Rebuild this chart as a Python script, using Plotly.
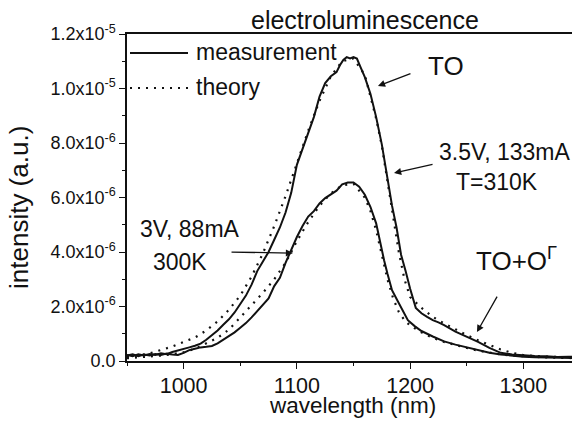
import numpy as np
import plotly.graph_objects as go

# ---- data (intensity in units of 1e-6 a.u.) ----
wl_meas_high = [950, 955, 960, 965, 970, 975, 980, 985, 990, 995, 1000, 1005, 1010, 1015, 1020, 1025,
                1030, 1035, 1040, 1045, 1050, 1055, 1060, 1065, 1070, 1075, 1080, 1085, 1090, 1095,
                1100, 1105, 1110, 1115, 1120, 1125, 1130, 1135, 1138, 1141, 1144, 1147, 1150, 1153,
                1156, 1160, 1165, 1170, 1175, 1178, 1181, 1184, 1188, 1192, 1196, 1200, 1205, 1210,
                1215, 1220, 1225, 1230, 1240, 1250, 1260, 1270, 1280, 1290, 1300, 1310, 1320, 1330,
                1340, 1350]
int_meas_high = [0.22, 0.18, 0.25, 0.20, 0.26, 0.22, 0.28, 0.25, 0.33, 0.38, 0.44, 0.50, 0.56, 0.64, 0.78, 0.95,
                 1.12, 1.33, 1.53, 1.78, 2.07, 2.40, 2.80, 3.30, 3.65, 4.00, 4.45, 4.90, 5.45, 6.17,
                 7.20, 7.80, 8.35, 8.95, 9.70, 10.20, 10.45, 10.60, 10.85, 11.05, 11.15, 11.10, 11.15, 11.10,
                 10.80, 10.42, 9.80, 8.95, 7.95, 7.20, 6.60, 5.70, 4.90, 3.90, 3.30, 2.65, 1.95, 1.75,
                 1.62, 1.50, 1.42, 1.32, 1.08, 0.90, 0.70, 0.48, 0.30, 0.24, 0.20, 0.18, 0.17, 0.15,
                 0.16, 0.14]

wl_theo_high = [950, 960, 970, 980, 990, 1000, 1010, 1020, 1030, 1040, 1050, 1060, 1070, 1080, 1090,
                1100, 1110, 1120, 1130, 1140, 1150, 1160, 1170, 1175, 1180, 1185, 1190, 1195, 1200,
                1210, 1220, 1230, 1240, 1250, 1260, 1270, 1280, 1290, 1300, 1310, 1320, 1330, 1340, 1350]
int_theo_high = [0.15, 0.20, 0.28, 0.40, 0.53, 0.70, 0.86, 1.12, 1.45, 1.88, 2.40, 3.10, 3.95, 4.95, 6.05,
                 7.25, 8.45, 9.55, 10.45, 11.00, 11.10, 10.50, 8.90, 7.90, 6.60, 5.20, 4.00, 3.00, 2.35,
                 1.95, 1.62, 1.38, 1.15, 0.95, 0.76, 0.58, 0.42, 0.30, 0.22, 0.18, 0.16, 0.14, 0.13, 0.12]

wl_meas_low = [950, 955, 960, 965, 970, 975, 980, 985, 990, 995, 1000, 1005, 1010, 1015, 1020, 1025,
               1030, 1035, 1040, 1045, 1050, 1055, 1060, 1065, 1070, 1075, 1080, 1085, 1090, 1095,
               1100, 1105, 1110, 1115, 1120, 1125, 1130, 1135, 1140, 1145, 1150, 1155, 1160, 1165,
               1170, 1174, 1177, 1180, 1184, 1189, 1194, 1198, 1204, 1210, 1220, 1230, 1240, 1250,
               1260, 1270, 1280, 1290, 1300, 1310, 1320, 1330, 1340, 1350]
int_meas_low = [0.20, 0.25, 0.18, 0.24, 0.20, 0.26, 0.22, 0.27, 0.24, 0.22, 0.30, 0.40, 0.45, 0.50, 0.52, 0.55,
                0.65, 0.78, 0.90, 1.05, 1.22, 1.39, 1.60, 1.82, 2.05, 2.30, 2.75, 3.05, 3.60, 4.10,
                4.55, 4.95, 5.30, 5.50, 5.78, 5.98, 6.10, 6.25, 6.48, 6.55, 6.55, 6.40, 6.10, 5.65,
                5.05, 4.20, 3.70, 3.20, 2.60, 2.20, 1.80, 1.50, 1.28, 1.10, 0.90, 0.72, 0.60, 0.50,
                0.38, 0.30, 0.24, 0.19, 0.16, 0.14, 0.13, 0.12, 0.11, 0.10]

wl_theo_low = [950, 960, 970, 980, 990, 1000, 1010, 1020, 1030, 1040, 1050, 1060, 1070, 1080, 1090,
               1100, 1110, 1120, 1130, 1140, 1150, 1160, 1165, 1170, 1175, 1180, 1185, 1190, 1195,
               1200, 1210, 1220, 1230, 1240, 1250, 1260, 1270, 1280, 1290, 1300, 1320, 1350]
int_theo_low = [0.10, 0.13, 0.16, 0.20, 0.25, 0.32, 0.45, 0.65, 0.85, 1.15, 1.60, 2.05, 2.50, 3.00, 3.60,
                4.40, 5.10, 5.70, 6.15, 6.45, 6.50, 6.00, 5.50, 4.80, 3.90, 3.00, 2.30, 1.80, 1.50,
                1.30, 1.05, 0.85, 0.70, 0.58, 0.48, 0.38, 0.30, 0.24, 0.20, 0.17, 0.13, 0.10]

x_tickvals = [1000, 1100, 1200, 1300]
x_ticktext = ["1000", "1100", "1200", "1300"]
y_tickvals = [0, 2e-6, 4e-6, 6e-6, 8e-6, 1e-5, 1.2e-5]
y_ticktext = ["0.0", "2.0x10<sup>-6</sup>", "4.0x10<sup>-6</sup>", "6.0x10<sup>-6</sup>",
              "8.0x10<sup>-6</sup>", "1.0x10<sup>-5</sup>", "1.2x10<sup>-5</sup>"]

scale = 1e-6
INK = "#111111"
FONT = "Liberation Sans, Arial, sans-serif"

fig = go.Figure()
dot = "2px,6px"
for wl, it, dash in [(wl_theo_high, int_theo_high, dot), (wl_theo_low, int_theo_low, dot),
                     (wl_meas_high, int_meas_high, "solid"), (wl_meas_low, int_meas_low, "solid")]:
    fig.add_trace(go.Scatter(x=wl, y=np.array(it) * scale, mode="lines",
                             line=dict(color=INK, width=2 if dash == "solid" else 2.2, dash=dash),
                             showlegend=False, hoverinfo="skip"))

# page body has an 8px default margin, so the figure is 8px smaller and margins are shifted
fig.update_layout(
    width=572, height=417,
    margin=dict(l=119, r=0, t=26, b=64),
    paper_bgcolor="white", plot_bgcolor="white",
    font=dict(family=FONT, color=INK),
    showlegend=False,
)
fig.update_xaxes(range=[950, 1350], tickvals=x_tickvals, ticktext=x_ticktext,
                 showgrid=False, zeroline=False, showline=True, linecolor=INK, linewidth=1.5,
                 mirror=True, ticks="outside", ticklen=6, tickwidth=1.3, tickcolor=INK,
                 ticklabelstandoff=-2,
                 tickfont=dict(size=21.5, family=FONT, color=INK),
                 minor=dict(tickvals=[950, 1050, 1150, 1250], ticks="outside", ticklen=3,
                            tickwidth=1.2, tickcolor=INK))
fig.update_yaxes(range=[0, 1.2e-5], tickvals=y_tickvals, ticktext=y_ticktext,
                 showgrid=False, zeroline=False, showline=True, linecolor=INK, linewidth=1.5,
                 ticks="outside", ticklen=6, tickwidth=1.3, tickcolor=INK,
                 tickfont=dict(size=18, family=FONT, color=INK),
                 minor=dict(tickvals=[1e-6, 3e-6, 5e-6, 7e-6, 9e-6, 1.1e-5], ticks="outside",
                            ticklen=3, tickwidth=1.2, tickcolor=INK))

# plot area: 453 px wide, 327 px tall
PW, PH = 453.0, 327.0
def px(x, y):
    """convert page-pixel position (reference image) to paper coords"""
    return (x - 127) / PW, (361 - y) / PH

def ann(text, x, y, size, xanchor="center", **kw):
    xp, yp = px(x, y)
    fig.add_annotation(text=text, xref="paper", yref="paper", x=xp, y=yp, showarrow=False,
                       font=dict(size=size), xanchor=xanchor, yanchor="middle", **kw)

# titles
ann("electroluminescence", 365, 20, 25)
ann("wavelength (nm)", 352, 405, 22.5)
ann("intensity (a.u.)", 19, 208, 26, textangle=-90)

# legend (drawn manually to match the long sample lines)
for yy, dsh, w in [(53, "solid", 2), (88, dot, 2.2)]:
    x0, y0 = px(130, yy)
    x1, _ = px(188, yy)
    fig.add_shape(type="line", xref="paper", yref="paper", x0=x0, x1=x1, y0=y0, y1=y0,
                  line=dict(color=INK, width=w, dash=dsh))
ann("measurement", 194, 52, 23, xanchor="left")
ann("theory", 194, 87, 23, xanchor="left")

# labels
ann("TO", 446, 66, 26)
ann("3.5V, 133mA", 505, 152, 23)
ann("T=310K", 497, 182, 23)
ann("3V, 88mA", 190, 229, 23)
ann("300K", 180, 262, 23)
ann("TO+O<sup>Γ</sup>", 474, 259, 26, xanchor="left")

# arrows (head in data coordinates, tail as pixel offset)
arrows = [(1171.6, 1.009e-5, 34, -13), (1185.8, 6.9e-6, 40, -9),
          (1096.6, 3.96e-6, -63, -1), (1259.0, 1.06e-6, 21, -37)]
for x, y, ax, ay in arrows:
    fig.add_annotation(x=x, y=y, xref="x", yref="y", ax=ax, ay=ay, text="", showarrow=True,
                       arrowhead=2, arrowsize=1.1, arrowwidth=1.3, arrowcolor=INK)

fig.write_html("out.html")
